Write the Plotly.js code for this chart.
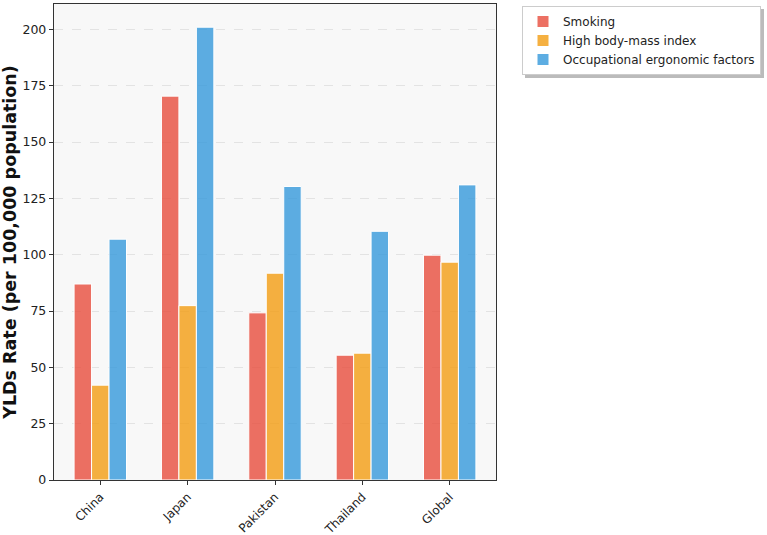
<!DOCTYPE html>
<html>
<head>
<meta charset="utf-8">
<script src="https://cdn.plot.ly/plotly-3.0.1.min.js"></script>
<style>
  html, body { margin: 0; padding: 0; background: #ffffff; }
  #chart { width: 767px; height: 535px; }
</style>
</head>
<body>
<div id="chart"></div>
<script>
// YLDs rate by risk factor and location
const locations = ["China", "Japan", "Pakistan", "Thailand", "Global"];
const smoking = [87.0, 170.4, 74.2, 55.4, 99.8];
const highBMI = [42.1, 77.4, 91.8, 56.3, 96.7];
const ergonomic = [106.9, 201.0, 130.3, 110.4, 131.0];
const yTicks = [0, 25, 50, 75, 100, 125, 150, 175, 200];

const seriesNames = ["Smoking", "High body-mass index", "Occupational ergonomic factors"];
const seriesColors = ["rgba(231,76,60,0.8)", "rgba(243,156,18,0.8)", "rgba(52,152,219,0.8)"];
const seriesValues = [smoking, highBMI, ergonomic];

const traces = seriesValues.map((vals, i) => ({
  type: "bar",
  name: seriesNames[i],
  x: locations,
  y: vals,
  marker: { color: seriesColors[i], line: { color: "#ffffff", width: 1 } },
  hoverinfo: "x+y+name"
}));

const font = "DejaVu Sans, sans-serif";

// plot area: 442 x 476 px
const plotLeft = 54, plotW = 442, plotBottom = 480, plotH = 476;
const px = v => (v - plotLeft) / plotW;
const py = v => (plotBottom - v) / plotH;

const layout = {
  width: 767,
  height: 535,
  margin: { l: 54, r: 271, t: 4, b: 55 },
  paper_bgcolor: "#ffffff",
  plot_bgcolor: "#f8f8f8",
  barmode: "group",
  bargap: 0.4,
  bargroupgap: 0,
  font: { family: font, size: 12.5, color: "#222222" },
  xaxis: {
    type: "category",
    range: [-0.53, 4.53],
    tickangle: -45,
    ticks: "outside",
    ticklen: 4,
    tickcolor: "#333333",
    showline: true,
    linecolor: "#333333",
    linewidth: 1.2,
    mirror: true,
    showgrid: false,
    tickfont: { family: font, size: 12, color: "#222222" }
  },
  yaxis: {
    range: [0, 211.3],
    tickvals: yTicks,
    ticks: "outside",
    ticklen: 4,
    tickcolor: "#333333",
    showline: true,
    linecolor: "#333333",
    linewidth: 1.2,
    mirror: true,
    showgrid: true,
    gridcolor: "#dddddd",
    griddash: "dash",
    gridwidth: 0.8,
    zeroline: false,
    tickfont: { family: font, size: 12.5, color: "#222222" },
    title: {
      text: "<b>YLDs Rate (per 100,000 population)</b>",
      font: { family: font, size: 17.5, color: "#111111" },
      standoff: 7
    }
  },
  legend: {
    x: px(522),
    y: py(6),
    xanchor: "left",
    yanchor: "top",
    bgcolor: "#ffffff",
    bordercolor: "#cccccc",
    borderwidth: 1,
    font: { family: font, size: 12, color: "#222222" },
    tracegroupgap: 0
  },
  shapes: [{
    // soft drop shadow behind the legend box
    type: "rect",
    xref: "paper", yref: "paper",
    x0: px(525), x1: px(764),
    y0: py(9), y1: py(78),
    fillcolor: "#bbbbbb",
    line: { width: 0 },
    layer: "above"
  }],
  showlegend: true
};

Plotly.newPlot("chart", traces, layout, { displayModeBar: false, staticPlot: true });
</script>
</body>
</html>
